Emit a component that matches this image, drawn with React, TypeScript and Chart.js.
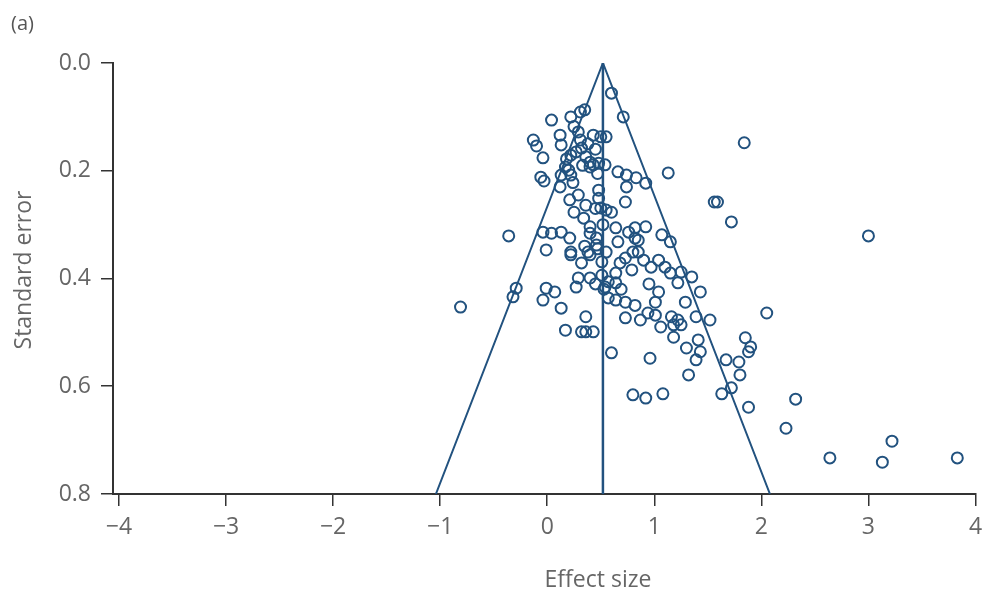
import React, { useEffect, useRef } from "react";
import { Chart, registerables } from "chart.js";

Chart.register(...registerables);

// Study effect sizes (x) and their standard errors (y)
const effectSize = [
  0.60, 0.71, 0.04, 0.22, 0.31, 0.35, -0.13, -0.10, -0.04, -0.06,
  -0.03, 0.12, 0.13, 0.29, 0.31, 0.43, 0.50, 0.55, 0.22, 0.32,
  0.36, 0.40, 0.48, 0.54, 0.17, 0.13, 0.22, 0.20, 0.40, 0.43,
  0.66, 0.74, 0.83, 0.92, 1.13, 1.84, 0.74, 0.48, 0.48, 0.50,
  0.55, 0.60, 0.21, 0.73, 0.34, 0.40, 0.40, 0.64, 0.76, 0.82,
  0.92, 0.82, -0.04, 0.04, 0.13, 0.21, -0.01, 1.07, 1.15, 0.66,
  0.85, 0.22, 0.38, 0.85, -0.36, 1.56, 1.59, 1.72, 0.46, 0.35,
  0.46, 0.55, 0.22, 0.32, 0.40, 0.68, 0.73, 0.80, 0.79, 0.64,
  0.90, 0.97, 1.04, 1.10, 1.15, 1.25, 1.35, 1.22, 0.29, 0.27,
  0.40, 0.54, 0.57, 0.64, -0.01, 0.07, -0.04, 0.13, -0.29, -0.32,
  0.57, 0.64, 0.73, 1.04, 1.01, 1.29, 1.43, 0.36, 0.73, 0.87,
  0.94, 1.01, 1.16, 1.22, 1.18, 1.25, 1.39, 1.52, 0.17, 0.32,
  0.36, 0.43, 1.18, 1.30, 1.41, 1.43, 1.85, 1.90, 0.60, 0.96,
  1.39, 1.32, 1.67, 1.79, 1.80, 1.88, 2.05, 3.00, -0.81, 0.80,
  0.92, 1.08, 1.63, 1.72, 1.88, 2.32, 2.23, 3.22, 2.64, 3.13,
  3.83, 0.29, 0.36, 0.25, 0.51, 0.51, 0.25, 0.38, 0.45, 0.27,
  0.18, 0.33, 0.47, 0.24, 0.12, 0.45, 0.52, 0.47, 0.53, 0.45,
  0.69, 0.95, 1.06, 0.82,
];

const standardError = [
  0.056, 0.100, 0.106, 0.100, 0.091, 0.087, 0.143, 0.154, 0.176, 0.212,
  0.219, 0.134, 0.152, 0.128, 0.143, 0.134, 0.137, 0.137, 0.171, 0.158,
  0.174, 0.184, 0.186, 0.189, 0.193, 0.208, 0.208, 0.199, 0.193, 0.189,
  0.202, 0.208, 0.213, 0.223, 0.204, 0.148, 0.230, 0.236, 0.251, 0.269,
  0.273, 0.277, 0.254, 0.258, 0.288, 0.304, 0.316, 0.306, 0.314, 0.306,
  0.304, 0.325, 0.314, 0.316, 0.314, 0.325, 0.347, 0.319, 0.332, 0.332,
  0.329, 0.351, 0.351, 0.351, 0.321, 0.258, 0.258, 0.295, 0.325, 0.340,
  0.338, 0.351, 0.356, 0.371, 0.356, 0.371, 0.362, 0.351, 0.384, 0.390,
  0.366, 0.379, 0.366, 0.379, 0.390, 0.388, 0.397, 0.408, 0.399, 0.416,
  0.399, 0.416, 0.406, 0.408, 0.418, 0.425, 0.440, 0.455, 0.418, 0.434,
  0.436, 0.440, 0.444, 0.425, 0.444, 0.444, 0.425, 0.471, 0.473, 0.477,
  0.464, 0.468, 0.471, 0.477, 0.486, 0.486, 0.471, 0.477, 0.496, 0.499,
  0.499, 0.499, 0.509, 0.529, 0.514, 0.536, 0.510, 0.527, 0.538, 0.548,
  0.551, 0.579, 0.551, 0.555, 0.579, 0.536, 0.464, 0.321, 0.453, 0.616,
  0.622, 0.614, 0.614, 0.603, 0.639, 0.624, 0.678, 0.702, 0.733, 0.741,
  0.733, 0.245, 0.264, 0.277, 0.369, 0.394, 0.118, 0.150, 0.160, 0.165,
  0.178, 0.190, 0.205, 0.222, 0.230, 0.270, 0.300, 0.345, 0.420, 0.410,
  0.420, 0.410, 0.490, 0.450,
];

// Funnel (pseudo 95% confidence limits) and pooled effect line
const funnelX = [-1.04, 0.52, 2.08];
const funnelY = [0.8, 0, 0.8];
const pooledX = [0.52, 0.52];
const pooledY = [0, 0.8];

const xTicks = [-4, -3, -2, -1, 0, 1, 2, 3, 4];
const yTicks = [0, 0.2, 0.4, 0.6, 0.8];

const panelLabel = "(a)";
const xTitle = "Effect size";
const yTitle = "Standard error";

const BLUE = "#22527f";
const AXIS = "#333333";
const TEXT = "#666666";
const FONT = "'Open Sans', 'Noto Sans', sans-serif";

const textPlugin = {
  id: "fixedTexts",
  afterDraw(chart: any) {
    const ctx = chart.ctx;
    ctx.save();
    ctx.fillStyle = "#555555";
    ctx.font = `20px ${FONT}`;
    ctx.textAlign = "left";
    ctx.textBaseline = "middle";
    ctx.fillText(panelLabel, 11, 24);
    ctx.fillStyle = TEXT;
    ctx.font = `23px ${FONT}`;
    ctx.textAlign = "center";
    ctx.fillText(xTitle, 598, 580);
    ctx.translate(24, 270);
    ctx.rotate(-Math.PI / 2);
    ctx.fillText(yTitle, 0, 0);
    ctx.restore();
  },
};

export default function App() {
  const ref = useRef<HTMLCanvasElement | null>(null);

  useEffect(() => {
    if (!ref.current) return;
    const points = effectSize.map((x, i) => ({ x, y: standardError[i] }));
    const funnel = funnelX.map((x, i) => ({ x, y: funnelY[i] }));
    const pooled = pooledX.map((x, i) => ({ x, y: pooledY[i] }));

    const chart = new Chart(ref.current, {
      type: "scatter",
      data: {
        datasets: [
          {
            type: "line",
            data: funnel,
            borderColor: BLUE,
            borderWidth: 2,
            pointRadius: 0,
            fill: false,
            tension: 0,
          } as any,
          {
            type: "line",
            data: pooled,
            borderColor: BLUE,
            borderWidth: 2.5,
            pointRadius: 0,
            fill: false,
          } as any,
          {
            data: points,
            pointStyle: "circle",
            pointRadius: 5.5,
            pointBorderWidth: 2,
            borderColor: BLUE,
            pointBorderColor: BLUE,
            backgroundColor: "rgba(0,0,0,0)",
            pointBackgroundColor: "rgba(0,0,0,0)",
          } as any,
        ],
      },
      options: {
        responsive: false,
        animation: false,
        devicePixelRatio: 1,
        layout: { padding: { top: 63, right: 6, left: 0, bottom: 0 } },
        plugins: {
          legend: { display: false },
          tooltip: { enabled: false },
        },
        scales: {
          x: {
            type: "linear",
            min: -4.056,
            max: 4,
            afterFit: (s: any) => {
              s.height = 104;
              s.paddingLeft = 0;
              s.paddingRight = 0;
            },
            afterBuildTicks: (s: any) => {
              s.ticks = xTicks.map((v) => ({ value: v }));
            },
            ticks: {
              color: TEXT,
              font: { size: 23, family: FONT },
              padding: 8,
              maxRotation: 0,
              autoSkip: false,
              callback: (v: any) =>
                Number(v) < 0 ? "\u2212" + Math.abs(Number(v)) : String(v),
            },
            grid: {
              display: true,
              drawOnChartArea: false,
              drawTicks: true,
              tickLength: 12,
              color: AXIS,
              lineWidth: 1.5,
            },
            border: { display: true, color: AXIS, width: 2 },
          },
          y: {
            type: "linear",
            reverse: true,
            min: 0,
            max: 0.8,
            afterFit: (s: any) => {
              s.width = 113;
              s.paddingTop = 0;
              s.paddingBottom = 0;
            },
            afterBuildTicks: (s: any) => {
              s.ticks = yTicks.map((v) => ({ value: v }));
            },
            ticks: {
              color: TEXT,
              font: { size: 23, family: FONT },
              padding: 10,
              autoSkip: false,
              callback: (v: any) => Number(v).toFixed(1),
            },
            grid: {
              display: true,
              drawOnChartArea: false,
              drawTicks: true,
              tickLength: 12,
              color: AXIS,
              lineWidth: 1.5,
            },
            border: { display: true, color: AXIS, width: 2 },
          },
        },
      },
      plugins: [textPlugin],
    });
    return () => chart.destroy();
  }, []);

  return (
    <div style={{ position: "absolute", left: 0, top: 0, width: 983, height: 598, background: "#fff" }}>
      <canvas ref={ref} width={983} height={598} style={{ display: "block" }} />
    </div>
  );
}
